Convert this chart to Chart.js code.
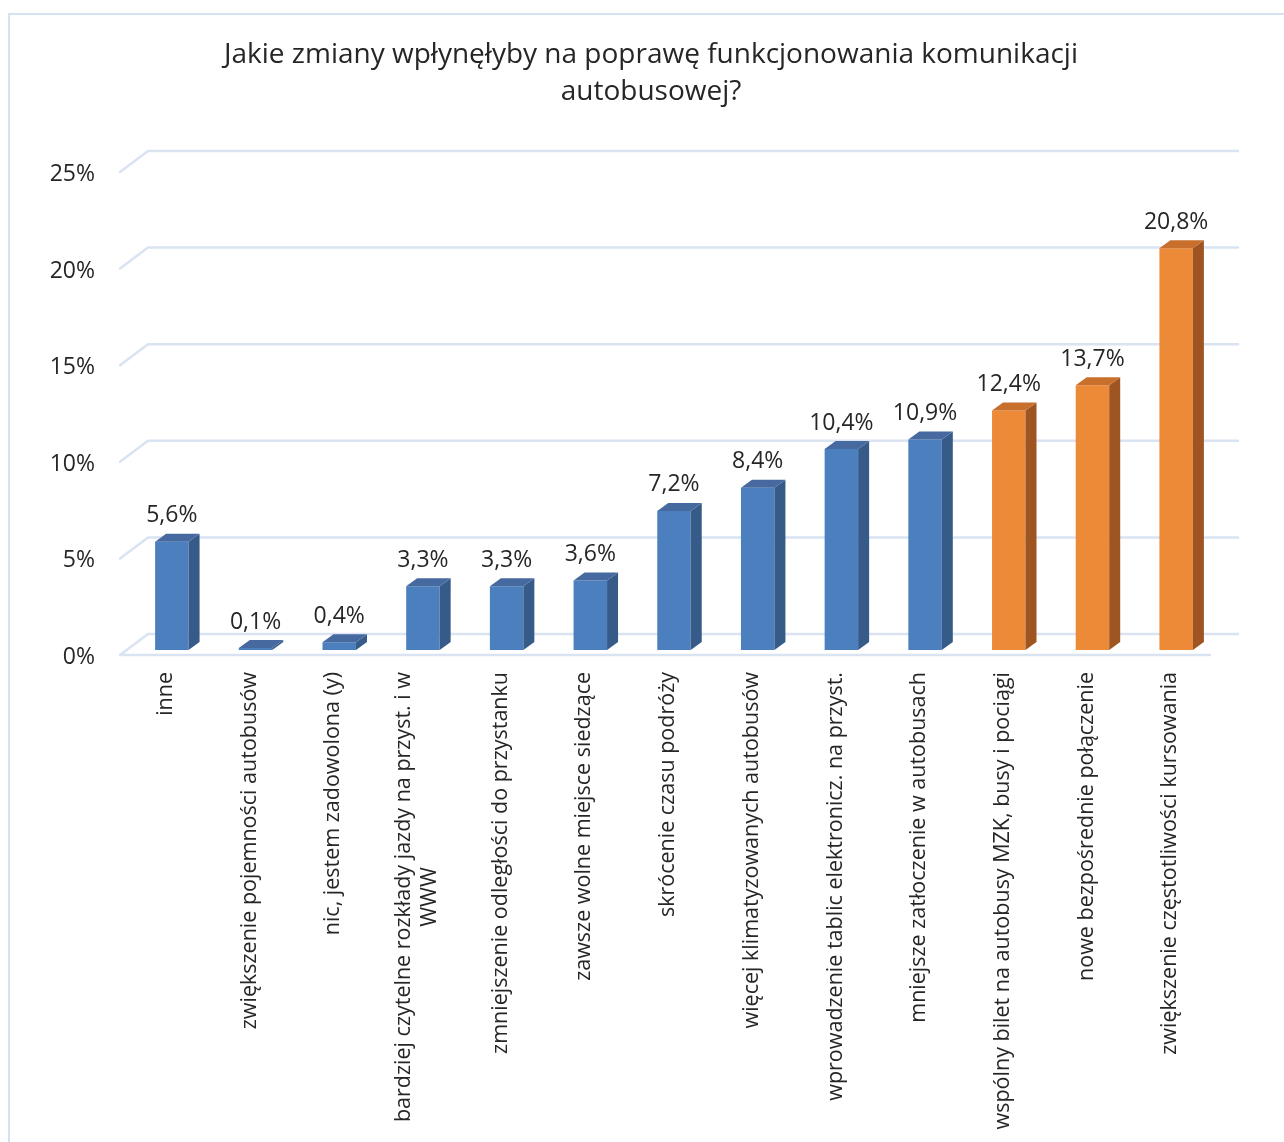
<!DOCTYPE html>
<html>
<head>
<meta charset="utf-8">
<script src="https://cdn.jsdelivr.net/npm/chart.js@4.4.1/dist/chart.umd.min.js"></script>
<style>
  html, body { margin: 0; background: #fff; }
  canvas { display: block; }
</style>
</head>
<body>
<canvas id="chart" width="1284" height="1142"></canvas>
<script>
(function(){
  'use strict';

  const titleLines = ['Jakie zmiany wpłynęłyby na poprawę funkcjonowania komunikacji', 'autobusowej?'];
  const categories = [
    ['inne'],
    ['zwiększenie pojemności autobusów'],
    ['nic, jestem zadowolona (y)'],
    ['bardziej czytelne rozkłady jazdy na przyst. i w', 'WWW'],
    ['zmniejszenie odległości do przystanku'],
    ['zawsze wolne miejsce siedzące'],
    ['skrócenie czasu podróży'],
    ['więcej klimatyzowanych autobusów'],
    ['wprowadzenie tablic elektronicz. na przyst.'],
    ['mniejsze zatłoczenie w autobusach'],
    ['wspólny bilet na autobusy MZK, busy i pociągi'],
    ['nowe bezpośrednie połączenie'],
    ['zwiększenie częstotliwości kursowania']
  ];
  const shares = [5.6, 0.1, 0.4, 3.3, 3.3, 3.6, 7.2, 8.4, 10.4, 10.9, 12.4, 13.7, 20.8];
  const topAnswers = 3; // last three answers are drawn in orange
  const yTicks = [0, 5, 10, 15, 20, 25];

  const FONT = '"Open Sans", sans-serif';
  const TEXT = '#262626';
  const GRID = '#d9e3f2';
  const BLUE = { front: '#4c7fbd', side: '#375b89', top: '#4669a0' };
  const ORANGE = { front: '#ed8a38', side: '#9e5522', top: '#c86f2c' };
  const DX = 11, DY = 8;

  const isTop = i => i >= shares.length - topAnswers;
  const fmt = v => v.toFixed(1).replace('.', ',') + '%';

  const decor = {
    id: 'decor',
    beforeDatasetsDraw(chart) {
      const { ctx, chartArea: a, scales: { y } } = chart;
      ctx.save();
      // outer frame
      ctx.strokeStyle = '#d6e1f1';
      ctx.lineWidth = 2;
      ctx.strokeRect(9, 14, 1400, 1400);
      // title
      ctx.fillStyle = TEXT;
      ctx.font = '28px ' + FONT;
      ctx.textAlign = 'center';
      ctx.textBaseline = 'middle';
      titleLines.forEach((t, i) => ctx.fillText(t, 651, 55 + i * 37));
      // walls (back gridlines + left diagonals)
      ctx.strokeStyle = GRID;
      ctx.lineWidth = 2.5;
      ctx.lineCap = 'round';
      yTicks.forEach(v => {
        const py = y.getPixelForValue(v);
        ctx.beginPath();
        ctx.moveTo(a.left - 10, py + 5);
        ctx.lineTo(a.left + 18, py - 16);
        ctx.lineTo(a.right + 20, py - 16);
        if (v === 0) {
          ctx.moveTo(a.left - 10, py + 5);
          ctx.lineTo(a.right - 8, py + 5);
        }
        ctx.stroke();
      });
      ctx.restore();
    },
    afterDatasetsDraw(chart) {
      const { ctx, scales: { x } } = chart;
      const bars = chart.getDatasetMeta(0).data;
      ctx.save();
      bars.forEach((b, i) => {
        const c = isTop(i) ? ORANGE : BLUE;
        const l = b.x - b.width / 2, r = b.x + b.width / 2;
        // side face
        ctx.fillStyle = c.side;
        ctx.beginPath();
        ctx.moveTo(r, b.y);
        ctx.lineTo(r + DX, b.y - DY);
        ctx.lineTo(r + DX, b.base - DY);
        ctx.lineTo(r, b.base);
        ctx.closePath();
        ctx.fill();
        // top face
        ctx.fillStyle = c.top;
        ctx.beginPath();
        ctx.moveTo(l, b.y);
        ctx.lineTo(l + DX, b.y - DY);
        ctx.lineTo(r + DX, b.y - DY);
        ctx.lineTo(r, b.y);
        ctx.closePath();
        ctx.fill();
        // value label
        ctx.fillStyle = TEXT;
        ctx.font = '23px ' + FONT;
        ctx.textAlign = 'center';
        ctx.textBaseline = 'alphabetic';
        ctx.fillText(fmt(shares[i]), b.x, b.y - 19.5);
      });
      // category labels, rotated
      ctx.font = '21.5px ' + FONT;
      ctx.fillStyle = TEXT;
      ctx.textBaseline = 'middle';
      const lh = 26;
      categories.forEach((lines, i) => {
        const px = x.getPixelForValue(i) - 6;
        const widest = Math.max(...lines.map(s => ctx.measureText(s).width));
        ctx.save();
        ctx.translate(px, 0);
        ctx.rotate(-Math.PI / 2);
        lines.forEach((s, k) => {
          const off = (k - (lines.length - 1) / 2) * lh;
          if (lines.length === 1) {
            ctx.textAlign = 'right';
            ctx.fillText(s, -672, off);
          } else {
            ctx.textAlign = 'center';
            ctx.fillText(s, -672 - widest / 2, off);
          }
        });
        ctx.restore();
      });
      ctx.restore();
    }
  };

  new Chart(document.getElementById('chart'), {
    type: 'bar',
    data: {
      labels: categories,
      datasets: [{
        data: shares,
        backgroundColor: c => isTop(c.dataIndex) ? ORANGE.front : BLUE.front,
        borderWidth: 0,
        barPercentage: 0.8,
        categoryPercentage: 0.5
      }]
    },
    options: {
      responsive: false,
      animation: false,
      layout: { padding: { top: 167, left: 0, right: 66, bottom: 0 } },
      plugins: { legend: { display: false }, tooltip: { enabled: false } },
      scales: {
        x: {
          grid: { display: false },
          border: { display: false },
          ticks: { display: false },
          afterFit: s => { s.height = 492; }
        },
        y: {
          min: 0, max: 25,
          afterBuildTicks: s => { s.ticks = yTicks.map(v => ({ value: v })); },
          afterFit: s => { s.width = 130; },
          grid: { display: false, drawTicks: false },
          border: { display: false },
          ticks: {
            padding: 35,
            labelOffset: 7.5,
            color: TEXT,
            font: { family: FONT, size: 23 },
            callback: v => v + '%'
          }
        }
      }
    },
    plugins: [decor]
  });
})();
</script>
</body>
</html>
